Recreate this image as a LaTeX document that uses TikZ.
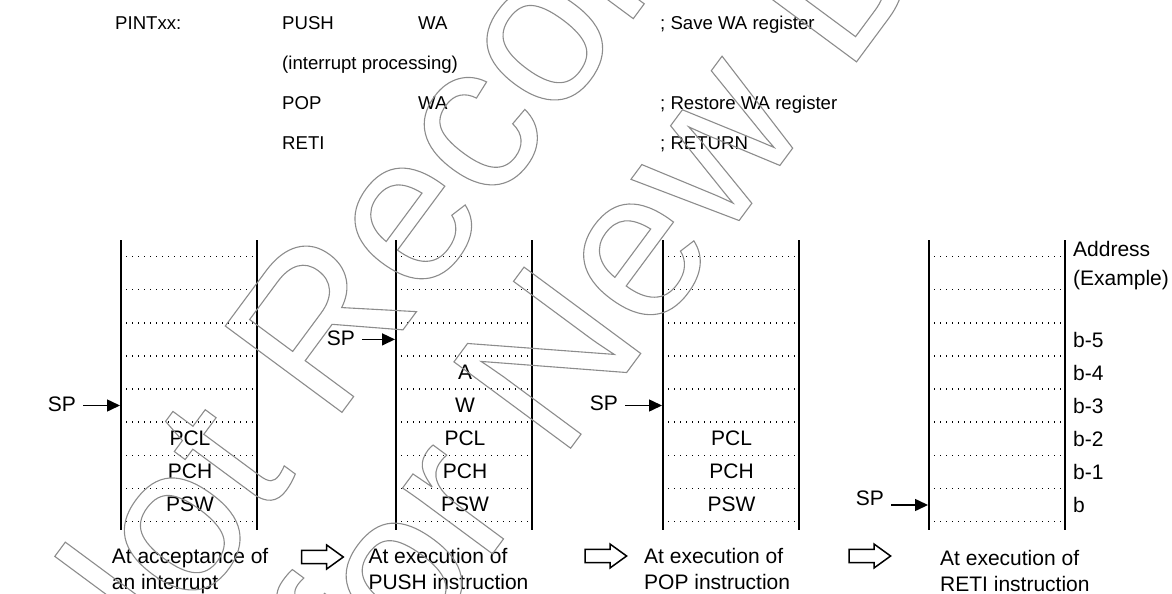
\documentclass[tikz,border=0pt]{standalone}
\usepackage{fontspec}
\setmainfont{Liberation Sans}
\newfontfamily\wmfont{Liberation Sans}
\usetikzlibrary{arrows.meta}
\newcommand{\outlineon}{\special{pdf:literal direct 1 Tr 1.1 w}}
\newcommand{\outlineoff}{\special{pdf:literal direct 0 Tr}}
\begin{document}
\begin{tikzpicture}[x=1pt,y=-1pt,
  wall/.style={line width=2pt, line cap=butt},
  dotrow/.style={line width=1.3pt, dash pattern=on 1.4pt off 4.6pt},
  lab/.style={font=\fontsize{21}{25}\selectfont, inner sep=0pt, anchor=base},
  labw/.style={font=\fontsize{21}{25}\selectfont, inner sep=0pt, anchor=base west},
  labe/.style={font=\fontsize{21}{25}\selectfont, inner sep=0pt, anchor=base east},
  code/.style={font=\fontsize{18.6}{22}\selectfont, inner sep=0pt, anchor=base west},
  sparrow/.style={line width=1.5pt, -{Triangle[length=13pt,width=12pt]}, shorten <=7pt},
  watermark/.style={inner sep=0pt, anchor=base west, rotate=53.5, text=black!45,
     font=\wmfont\fontsize{211}{211}\selectfont},
  hollowarrow/.pic={\draw[line width=1.5pt, line join=miter]
     (0,-6.7) -- (25,-6.7) -- (25,-12) -- (41.6,0) -- (25,12) -- (25,6.7) -- (0,6.7) -- cycle;}
]
\useasboundingbox (0,0) rectangle (1172,594);

% ---- code listing ----
\node[code] (t1) at (115,29.3) {PINTxx:};
\node[code] (t2) at (282,29.3) {PUSH};
\node[code] (t3) at (418,29.3) {WA};
\node[code] (t4) at (660,29.3) {; Save WA register};
\node[code] (t5) at (282,69.3) {(interrupt processing)};
\node[code] (t6) at (282,109.3) {POP};
\node[code] (t7) at (418,109.3) {WA};
\node[code] (t8) at (660,109.3) {; Restore WA register};
\node[code] (t9) at (282,149.3) {RETI};
\node[code] (t10) at (660,149.3) {; RETURN};

% ---- stacks ----
\foreach \l in {121,396,663,929} {
  \draw[wall] (\l,240) -- (\l,530);
  \draw[wall] (\l+136,240) -- (\l+136,530);
  \foreach \k in {0,...,8}
    \draw[dotrow] (\l+5,256.7+33.08*\k) -- (\l+133,256.7+33.08*\k);
}

% stack 1
\node[lab] (s1pcl) at (190,445) {PCL};
\node[lab] (s1pch) at (190,478) {PCH};
\node[lab] (s1psw) at (190,511) {PSW};
% stack 2
\node[lab] (s2a) at (465,379) {A};
\node[lab] (s2w) at (465,412) {W};
\node[lab] (s2pcl) at (465,445) {PCL};
\node[lab] (s2pch) at (465,478) {PCH};
\node[lab] (s2psw) at (465,511) {PSW};
% stack 3
\node[lab] (s3pcl) at (731.5,445) {PCL};
\node[lab] (s3pch) at (731.5,478) {PCH};
\node[lab] (s3psw) at (731.5,511) {PSW};

% addresses
\node[labw] (ad1) at (1073,256.7) {Address};
\node[labw] (ad2) at (1073,285) {(Example)};
\node[labw] (b5) at (1073,347) {b-5};
\node[labw] (b4) at (1073,380) {b-4};
\node[labw] (b3) at (1073,413) {b-3};
\node[labw] (b2) at (1073,446) {b-2};
\node[labw] (b1) at (1073,479) {b-1};
\node[labw] (b0) at (1073,512) {b};

% SP pointers
\coordinate (a1) at (120,405.5);
\coordinate (a2) at (395,339.4);
\coordinate (a3) at (662,405.5);
\coordinate (a4) at (928,505);
\node[labe] (sp1) at (76,411) {SP};
\node[labe] (sp2) at (355,345) {SP};
\node[labe] (sp3) at (618,410) {SP};
\node[labe] (sp4) at (884,505) {SP};
\draw[sparrow] (sp1.east |- a1) -- (a1);
\draw[sparrow] (sp2.east |- a2) -- (a2);
\draw[sparrow] (sp3.east |- a3) -- (a3);
\draw[sparrow] (sp4.east |- a4) -- (a4);

% captions
\node[labw] (c1a) at (111.7,563.3) {At acceptance of};
\node[labw] (c1b) at (111.7,589.3) {an interrupt};
\node[labw] (c2a) at (368.3,563.3) {At execution of};
\node[labw] (c2b) at (368.3,589.3) {PUSH instruction};
\node[labw] (c3a) at (644,563.3) {At execution of};
\node[labw] (c3b) at (644,589.3) {POP instruction};
\node[labw] (c4a) at (940,565) {At execution of};
\node[labw] (c4b) at (940,591.5) {RETI instruction};

% transition arrows
\pic at (301.7,557) {hollowarrow};
\pic at (585,556) {hollowarrow};
\pic at (849,556) {hollowarrow};

% watermark (outlined text)
\node[watermark] (wm1) at (101.5,737.3) {\outlineon Not Recommended\outlineoff};
\node[watermark] (wm2) at (379,707.2) {\outlineon for New Design\outlineoff};
\end{tikzpicture}
\end{document}
